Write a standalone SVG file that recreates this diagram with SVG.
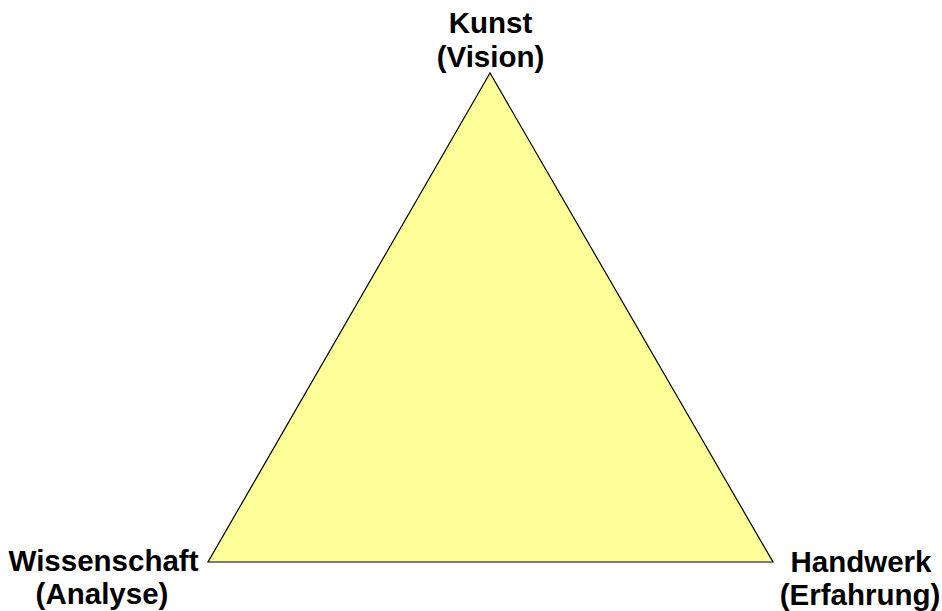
<svg xmlns="http://www.w3.org/2000/svg" width="942" height="611" viewBox="0 0 942 611">
<style>
.lbl{font-family:"Liberation Sans",Arial,sans-serif;font-weight:bold;font-size:29.5px;fill:#000;text-anchor:middle}
</style>
<rect width="942" height="611" fill="#fff"/>
<g id="triangle">
<polygon points="490,73 208,562 773,562" fill="#FFFF99" stroke="#000" stroke-width="1.2"/>
</g>
<g id="kunst">
<text class="lbl" x="490.5" y="33">Kunst</text>
<text class="lbl" x="490.5" y="67">(Vision)</text>
</g>
<g id="wissenschaft">
<text class="lbl" x="103.5" y="571">Wissenschaft</text>
<text class="lbl" x="102" y="604">(Analyse)</text>
</g>
<g id="handwerk">
<text class="lbl" x="861" y="572">Handwerk</text>
<text class="lbl" x="860" y="605">(Erfahrung)</text>
</g>
<g id="connectors"/>
</svg>
